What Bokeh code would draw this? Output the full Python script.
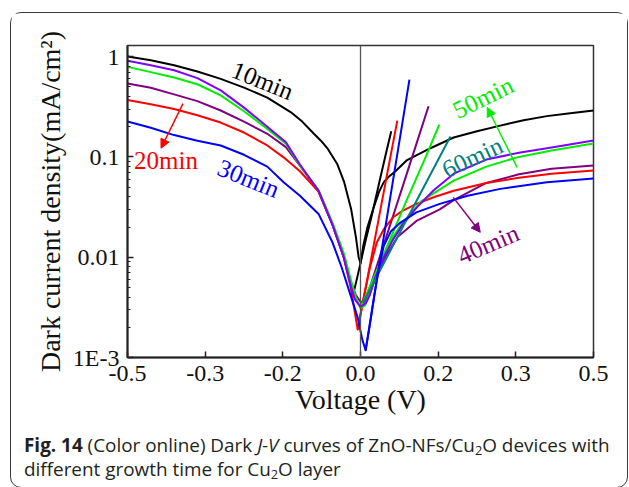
import math

from bokeh.embed import file_html
from bokeh.layouts import column
from bokeh.models import (Arrow, Div, FixedTicker, Label, NormalHead,
                          NumeralTickFormatter, Range1d, Span)
from bokeh.plotting import figure
from bokeh.resources import INLINE

# ---------------------------------------------------------------- data
# Dark J-V sweeps (V in volts, J in mA/cm^2) for each Cu2O growth time.
v_10 = [-0.5, -0.45, -0.4, -0.35, -0.3, -0.25, -0.2, -0.15, -0.125, -0.1, -0.085, -0.07,
        -0.05, -0.035, -0.02, -0.01, -0.004, 0.0, 0.006, 0.015, 0.028, 0.04, 0.05, 0.06,
        0.075, 0.1, 0.15, 0.2, 0.25, 0.3, 0.35, 0.4, 0.45, 0.5]
j_10 = [1.0, 0.92, 0.82, 0.71, 0.60, 0.49, 0.39, 0.28, 0.225, 0.17, 0.145, 0.12,
        0.085, 0.056, 0.030, 0.016, 0.010, 0.0087, 0.013, 0.020, 0.031, 0.045, 0.056, 0.063,
        0.072, 0.093, 0.122, 0.156, 0.18, 0.205, 0.232, 0.255, 0.272, 0.29]
v_10f = [-0.017, -0.005, 0.01, 0.025, 0.04, 0.055, 0.066]
j_10f = [0.0040, 0.0069, 0.014, 0.027, 0.055, 0.11, 0.18]

v_20 = [-0.5, -0.45, -0.4, -0.35, -0.3, -0.25, -0.2, -0.165, -0.13, -0.09, -0.06, -0.036,
        -0.021, -0.006, 0.006, 0.02, 0.035, 0.05, 0.07, 0.09, 0.12, 0.16, 0.2, 0.27, 0.34,
        0.41, 0.5]
j_20 = [0.37, 0.335, 0.30, 0.26, 0.22, 0.175, 0.13, 0.099, 0.072, 0.045, 0.021, 0.010,
        0.005, 0.0019, 0.0038, 0.0078, 0.014, 0.019, 0.025, 0.029, 0.034, 0.040, 0.046,
        0.055, 0.062, 0.068, 0.073]
v_20f = [-0.006, 0.02, 0.04, 0.06, 0.079]
j_20f = [0.0019, 0.0082, 0.0255, 0.079, 0.23]

v_30 = [-0.5, -0.45, -0.4, -0.35, -0.3, -0.25, -0.2, -0.165, -0.13, -0.09, -0.06, -0.04,
        -0.02, -0.006, 0.004, 0.011, 0.02, 0.03, 0.04, 0.05, 0.065, 0.085, 0.12, 0.17,
        0.23, 0.3, 0.4, 0.5]
j_30 = [0.225, 0.195, 0.165, 0.145, 0.13, 0.105, 0.080, 0.056, 0.041, 0.027, 0.014, 0.0078,
        0.0040, 0.0025, 0.0015, 0.00118, 0.0021, 0.0042, 0.008, 0.013, 0.018, 0.022, 0.028,
        0.034, 0.041, 0.048, 0.056, 0.061]
v_30f = [0.011, 0.03, 0.05, 0.07, 0.09, 0.105]
j_30f = [0.00118, 0.0043, 0.016, 0.059, 0.22, 0.59]

v_40 = [-0.5, -0.45, -0.4, -0.35, -0.3, -0.25, -0.2, -0.16, -0.13, -0.09, -0.06, -0.036,
        -0.02, -0.01, 0.0, 0.01, 0.02, 0.03, 0.05, 0.08, 0.12, 0.17, 0.2, 0.27, 0.34, 0.41, 0.5]
j_40 = [0.54, 0.49, 0.42, 0.36, 0.29, 0.225, 0.17, 0.125, 0.082, 0.045, 0.021, 0.010,
        0.0055, 0.0042, 0.0036, 0.0036, 0.0043, 0.0058, 0.0095, 0.016, 0.023, 0.030, 0.037,
        0.055, 0.067, 0.076, 0.082]
v_40f = [0.01, 0.05, 0.09, 0.12, 0.146]
j_40f = [0.0036, 0.0134, 0.050, 0.135, 0.32]

v_50 = [-0.5, -0.45, -0.4, -0.35, -0.3, -0.25, -0.2, -0.16, -0.13, -0.09, -0.06, -0.036,
        -0.02, -0.01, 0.0, 0.01, 0.02, 0.04, 0.06, 0.09, 0.13, 0.2, 0.27, 0.34, 0.41, 0.5]
j_50 = [0.79, 0.70, 0.62, 0.53, 0.41, 0.285, 0.19, 0.135, 0.082, 0.047, 0.022, 0.011,
        0.0058, 0.0040, 0.0031, 0.0033, 0.0045, 0.008, 0.0135, 0.022, 0.036, 0.058, 0.080,
        0.100, 0.116, 0.136]
v_50f = [0.0, 0.05, 0.1, 0.14, 0.169]
j_50f = [0.0031, 0.0107, 0.038, 0.10, 0.21]

v_60 = [-0.5, -0.45, -0.4, -0.35, -0.3, -0.25, -0.2, -0.16, -0.13, -0.09, -0.06, -0.036,
        -0.021, -0.012, 0.0, 0.012, 0.02, 0.03, 0.05, 0.07, 0.09, 0.12, 0.156, 0.2, 0.27,
        0.34, 0.41, 0.5]
j_60 = [0.91, 0.82, 0.73, 0.61, 0.46, 0.31, 0.20, 0.14, 0.084, 0.046, 0.021, 0.010,
        0.0052, 0.0038, 0.0032, 0.0035, 0.0042, 0.006, 0.010, 0.015, 0.021, 0.031, 0.046,
        0.068, 0.094, 0.110, 0.124, 0.146]
v_60f = [0.005, 0.05, 0.1, 0.15, 0.193]
j_60f = [0.0035, 0.0087, 0.0242, 0.0667, 0.16]

x_ticks = [-0.5, -1 / 3, -1 / 6, 0.0, 1 / 6, 1 / 3, 0.5]
y_ticks = [0.001, 0.01, 0.1, 1.0]
y_tick_labels = ["1E-3", "0.01", "0.1", "1"]

SUB = '<sub style="font-size:68%;vertical-align:-0.2em;line-height:0">2</sub>'
caption_html = ("<b>Fig. 14</b> (Color online) Dark <i>J-V</i> curves of "
                f"ZnO-NFs/Cu{SUB}O devices with<br>"
                f"different growth time for Cu{SUB}O layer")

# ---------------------------------------------------------------- page geometry
# The rounded panel starts at (10, 12); its 1.5 px border sits outside the content.
PANEL_X, PANEL_Y, BORDER = 10, 12, 1.5
CONTENT_X = PANEL_X + BORDER
CONTENT_Y = PANEL_Y + BORDER
FRAME_L, FRAME_R, FRAME_T, FRAME_B = 127, 594, 45, 358
PLOT_W = 616
PLOT_H = 412

p = figure(width=PLOT_W, height=PLOT_H, x_range=Range1d(-0.5, 0.5),
           y_range=Range1d(1e-3, 1.29), y_axis_type="log",
           output_backend="svg", toolbar_location=None,
           min_border_left=round(FRAME_L - CONTENT_X),
           min_border_right=round(CONTENT_X + PLOT_W - FRAME_R),
           min_border_top=round(FRAME_T - CONTENT_Y),
           min_border_bottom=round(CONTENT_Y + PLOT_H - FRAME_B))
p.xgrid.visible = False
p.ygrid.visible = False
p.background_fill_color = "white"
p.border_fill_color = "white"
p.outline_line_color = "#333333"
p.outline_line_width = 1.5

serif = "Liberation Serif"
p.xaxis.ticker = FixedTicker(ticks=x_ticks)
p.xaxis.formatter = NumeralTickFormatter(format="0.0")
minor = [k * 10.0 ** d for d in range(-3, 0) for k in range(2, 10)]
p.yaxis.ticker = FixedTicker(ticks=y_ticks, minor_ticks=minor)
p.yaxis.major_label_overrides = dict(zip(y_ticks, y_tick_labels))

for ax in (p.xaxis[0], p.yaxis[0]):
    ax.axis_line_width = 2
    ax.axis_line_color = "#222222"
    ax.major_tick_in = 6
    ax.major_tick_out = 0
    ax.minor_tick_in = 3
    ax.minor_tick_out = 0
    ax.major_tick_line_color = "#222222"
    ax.major_tick_line_width = 1.5
    ax.minor_tick_line_color = "#222222"
    ax.major_label_text_font = serif
    ax.major_label_text_font_size = "24px"
    ax.major_label_text_color = "#111111"
    ax.major_label_standoff = 8
    ax.axis_label_text_font = serif
    ax.axis_label_text_font_size = "28px"
    ax.axis_label_text_font_style = "normal"
    ax.axis_label_text_color = "#111111"
p.xaxis.minor_tick_line_color = None
p.xaxis.axis_label = "Voltage (V)"
p.xaxis.axis_label_standoff = 0
p.yaxis.axis_label = "Dark current density(mA/cm²)"
p.yaxis.axis_label_standoff = 4

p.add_layout(Span(location=0, dimension="height", line_color="#555555", line_width=1.3))

# ---------------------------------------------------------------- curves
series = [
    (v_10, j_10, v_10f, j_10f, "#000000", "#000000"),
    (v_40, j_40, v_40f, j_40f, "#800080", "#800080"),
    (v_20, j_20, v_20f, j_20f, "#ff0000", "#ff0000"),
    (v_50, j_50, v_50f, j_50f, "#00ee00", "#00ee00"),
    (v_60, j_60, v_60f, j_60f, "#8000ff", "#008080"),
    (v_30, j_30, v_30f, j_30f, "#0000ff", "#0000ff"),
]
for v, j, vf, jf, c_main, c_fwd in series:
    p.line(v, j, line_color=c_main, line_width=2, line_join="round")
    p.line(vf, jf, line_color=c_fwd, line_width=2, line_join="round")

# ---------------------------------------------------------------- labels
def tag(text, x, y, color, angle_deg=0.0, align="center"):
    p.add_layout(Label(x=x, y=y, text=text, text_color=color, angle=math.radians(angle_deg),
                       text_align=align, text_baseline="middle", text_font=serif,
                       text_font_size="25px"))

def pointer(x0, y0, x1, y1, color):
    p.add_layout(Arrow(x_start=x0, y_start=y0, x_end=x1, y_end=y1, line_color=color,
                       line_width=1.5,
                       end=NormalHead(size=9, line_color=color, fill_color=color)))

tag("10min", -0.210, 0.577, "#000000", -22)
tag("20min", -0.486, 0.092, "#ff0000", 0, "left")
tag("30min", -0.240, 0.061, "#0000ff", -22)
tag("50min", 0.263, 0.391, "#00ee00", 26)
tag("60min", 0.240, 0.099, "#008080", 25)
tag("40min", 0.274, 0.0135, "#800080", 23)
pointer(-0.381, 0.340, -0.428, 0.122, "#ff0000")
pointer(0.336, 0.0786, 0.272, 0.311, "#00ee00")
pointer(0.199, 0.0395, 0.257, 0.0177, "#800080")

# ---------------------------------------------------------------- caption + panel
cap = Div(text=caption_html, width=PLOT_W, height=62, margin=0,
          styles={"font-family": "'Open Sans', sans-serif", "font-size": "18.9px",
                  "line-height": "24px", "color": "#231f20",
                  "padding-left": "13px", "padding-top": "8px",
                  "box-sizing": "border-box", "white-space": "nowrap"})

page = column(p, cap, spacing=0,
              margin=(PANEL_Y, 0, 0, PANEL_X),
              styles={"border": f"{BORDER}px solid #3a3a3a", "border-radius": "11px",
                      "background": "white"})

open("out.html", "w").write(file_html(page, INLINE))
